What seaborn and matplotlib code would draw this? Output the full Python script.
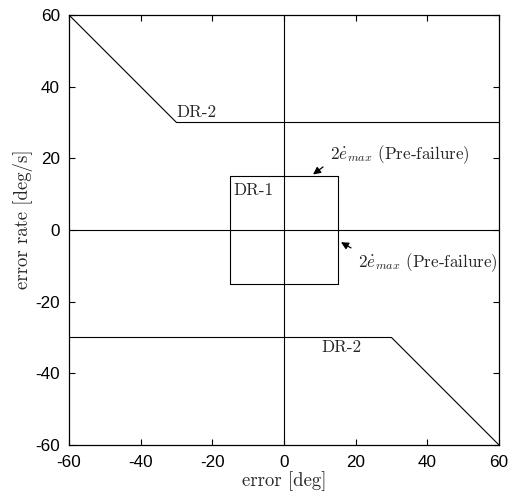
import matplotlib
matplotlib.use("Agg")
import matplotlib.pyplot as plt
import seaborn as sns
import pandas as pd

# Data
dr2_upper_x = [-60, -30, 60]
dr2_upper_y = [60, 30, 30]
dr2_lower_x = [-60, 30, 60]
dr2_lower_y = [-30, -30, -60]
dr1_x = [-15, 15, 15, -15, -15]
dr1_y = [-15, -15, 15, 15, -15]
zero_h_x = [-60, 60]
zero_h_y = [0, 0]
zero_v_x = [0, 0]
zero_v_y = [-60, 60]
ticks = [-60, -40, -20, 0, 20, 40, 60]
tick_labels = ["-60", "-40", "-20", "0", "20", "40", "60"]

sns.set_style("ticks")
plt.rcParams['font.family'] = ['Liberation Sans', 'DejaVu Sans']
plt.rcParams['axes.unicode_minus'] = False
plt.rcParams['mathtext.fontset'] = 'cm'

fig = plt.figure(figsize=(5.09, 4.96), dpi=100)
ax = fig.add_axes([69/509, 1-445/496, 430/509, 430/496])

lw = 0.8
def poly(xs, ys):
    df = pd.DataFrame({"x": xs, "y": ys})
    sns.lineplot(data=df, x="x", y="y", sort=False, estimator=None,
                 color="black", lw=lw, ax=ax)

poly(dr2_upper_x, dr2_upper_y)
poly(dr2_lower_x, dr2_lower_y)
poly(dr1_x, dr1_y)
poly(zero_h_x, zero_h_y)
poly(zero_v_x, zero_v_y)

ax.set_xlim(-60, 60)
ax.set_ylim(-60, 60)
ax.set_xticks(ticks)
ax.set_xticklabels(tick_labels)
ax.set_yticks(ticks)
ax.set_yticklabels(tick_labels)
ax.tick_params(direction='in', length=4, width=0.8, top=True, right=True,
               labelsize=12.3, colors='black')
ax.tick_params(axis='x', pad=7)
ax.tick_params(axis='y', pad=6.5)
for s in ax.spines.values():
    s.set_linewidth(0.9)
    s.set_color('black')

lab = dict(family='cmr10', fontsize=13.5)
ann = dict(family='cmr10', fontsize=12.3)
ax.set_xlabel('error [deg]', labelpad=1, **lab)
ax.set_ylabel('error rate [deg/s]', **lab)
ax.yaxis.set_label_coords(-0.0837, 0.5 + 11/430)

ax.text(-30.1, 32.9, 'DR-2', va='center', ha='left', **ann)
ax.text(10.3, -32.7, 'DR-2', va='center', ha='left', **ann)
ax.text(-14.2, 11.2, 'DR-1', va='center', ha='left', **ann)

arrow = dict(arrowstyle='-|>', color='black', lw=0.9, mutation_scale=11,
             shrinkA=0, shrinkB=0)
ax.annotate('', xy=(8.1, 15.5), xytext=(10.9, 17.6), arrowprops=arrow)
ax.annotate('', xy=(15.9, -3.4), xytext=(18.7, -5.0), arrowprops=arrow)
ax.text(12.8, 20.9, r'$2\dot{e}_{max}$ (Pre-failure)', va='center', ha='left', **ann)
ax.text(20.7, -9.1, r'$2\dot{e}_{max}$ (Pre-failure)', va='center', ha='left', **ann)

fig.savefig("out.png", dpi=100)
